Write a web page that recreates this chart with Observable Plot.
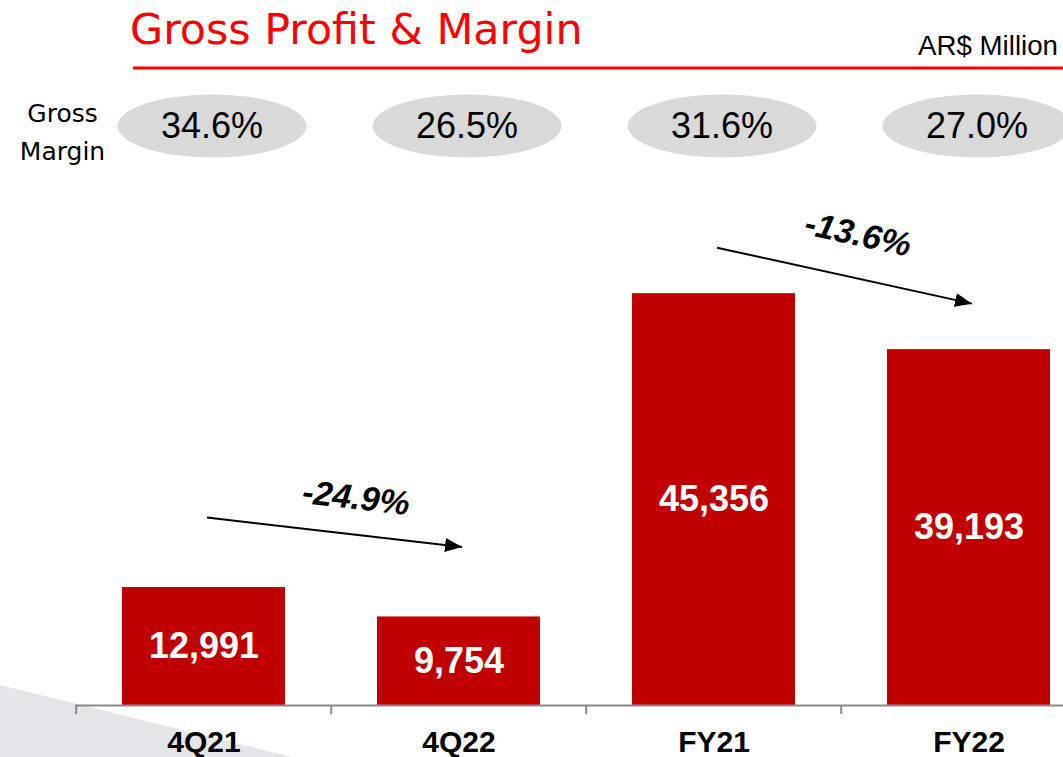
<!DOCTYPE html>
<html><head><meta charset="utf-8">
<script src="https://cdn.jsdelivr.net/npm/d3@7"></script>
<script src="https://cdn.jsdelivr.net/npm/@observablehq/plot@0.6"></script>
<style>
html,body{margin:0;padding:0;background:#fff;overflow:hidden;width:1063px;height:757px}
#page{position:relative;width:1063px;height:757px}
#wedge{position:absolute;left:0;top:0;width:1063px;height:757px;background:#e4e5e9;clip-path:polygon(0 685px,292px 757px,0 757px)}
#header,#chart{position:relative;display:block}
</style></head><body>
<div id="page"><div id="wedge"></div><svg id="header" width="1063" height="75"></svg><div id="chart"></div></div>
<script>
const categories = ["4Q21", "4Q22", "FY21", "FY22"];
const grossProfit = [12991, 9754, 45356, 39193];
const grossMargin = ["34.6%", "26.5%", "31.6%", "27.0%"];
const changeFrom = ["4Q21", "FY21"];
const changeTo = ["4Q22", "FY22"];
const changeLabels = ["-24.9%", "-13.6%"];
const titleText = "Gross Profit & Margin";
const unitText = "AR$ Million";
const marginLabel = "Gross\nMargin";

// header
const hdr = d3.select("#header");
hdr.append("text").attr("x", 130).attr("y", 44).attr("fill", "#ff0000")
  .style("font-family", "'DejaVu Sans', sans-serif").style("font-size", "42.8px").text(titleText);
hdr.append("text").attr("x", 1058).attr("y", 55).attr("text-anchor", "end").attr("fill", "#000")
  .style("font-family", "'Liberation Sans', Arial, sans-serif").style("font-size", "27.7px").text(unitText);
hdr.append("line").attr("x1", 133).attr("x2", 1063).attr("y1", 68).attr("y2", 68)
  .attr("stroke", "#ff0000").attr("stroke-width", 3);

// chart
const W = 1063, H = 682, mTop = 176, mBottom = 52;
const xRange = [75, 1097];
const step = (xRange[1] - xRange[0]) / categories.length;
const yMax = 50000;
const k = (H - mTop - mBottom) / yMax;
const valueOf = new Map(categories.map((c, i) => [c, grossProfit[i]]));
const rows = categories.map((c, i) => ({cat: c, value: grossProfit[i], margin: grossMargin[i]}));
const changes = changeLabels.map((l, i) => ({from: changeFrom[i], to: changeTo[i], label: l}));

const ellipse = {
  draw(ctx, size) {
    const ry = Math.sqrt(size / Math.PI), rx = ry * 3.0, q = 0.5523;
    ctx.moveTo(rx, 0);
    ctx.bezierCurveTo(rx, q * ry, q * rx, ry, 0, ry);
    ctx.bezierCurveTo(-q * rx, ry, -rx, q * ry, -rx, 0);
    ctx.bezierCurveTo(-rx, -q * ry, -q * rx, -ry, 0, -ry);
    ctx.bezierCurveTo(q * rx, -ry, rx, -q * ry, rx, 0);
    ctx.closePath();
  }
};

const arrowLift = [70, 46];
const labelOffset = [[152, -104], [144, -87]];
const changeMarks = changes.flatMap((c, i) => {
  const angle = Math.atan(((valueOf.get(c.from) - valueOf.get(c.to)) * k) / step) * 180 / Math.PI;
  return [
    Plot.link([c], {x1: "from", x2: "to", y1: d => valueOf.get(d.from), y2: d => valueOf.get(d.to),
      dx: 3, dy: -arrowLift[i], stroke: "#000", strokeWidth: 2}),
    Plot.text([c], {x: "from", y: d => (valueOf.get(d.from) + valueOf.get(d.to)) / 2, text: "label",
      dx: labelOffset[i][0], dy: labelOffset[i][1], rotate: angle,
      fontSize: 34, fontWeight: "bold", fontStyle: "italic", fill: "#000"})
  ];
});

const chart = Plot.plot({
  width: W, height: H,
  marginTop: mTop, marginBottom: mBottom, marginLeft: 75, marginRight: 0,
  style: {background: "transparent", fontFamily: "'Liberation Sans', Arial, sans-serif", overflow: "hidden"},
  x: {domain: categories, range: xRange, paddingInner: 0.36, paddingOuter: 0.18, axis: null},
  y: {domain: [0, yMax], axis: null},
  marks: [
    Plot.barY(rows, {x: "cat", y: "value", fill: "#c00000"}),
    Plot.ruleY([0], {stroke: "#898989", strokeWidth: 2}),
    Plot.ruleX(categories, {x: d => d, y1: 0, y2: 0, dx: -step / 2, insetTop: 0, insetBottom: -9,
      stroke: "#898989", strokeWidth: 2}),
    Plot.text(categories, {x: d => d, frameAnchor: "bottom", lineAnchor: "bottom", dy: 46,
      fontSize: 30, fontWeight: "bold", fill: "#000"}),
    Plot.text(rows, {x: "cat", y: d => d.value / 2, text: d => d3.format(",")(d.value),
      fill: "#fff", fontSize: 36, fontWeight: "bold"}),
    Plot.dot(rows, {x: "cat", frameAnchor: "top", dx: 8, dy: -125.5, r: 31.5, symbol: ellipse,
      fill: "#d9d9d9", stroke: "none"}),
    Plot.text(rows, {x: "cat", text: "margin", frameAnchor: "top", lineAnchor: "middle", dx: 8, dy: -125.5,
      fontSize: 36, fill: "#000"}),
    Plot.text([marginLabel], {frameAnchor: "top-left", lineAnchor: "top", dx: -13, dy: -156, textAnchor: "middle",
      lineHeight: 1.5, fontSize: 25, fontFamily: "'DejaVu Sans', sans-serif", fill: "#000"}),
    ...changeMarks
  ]
});
document.getElementById("chart").appendChild(chart);

// filled arrowheads on the change arrows
const svg = d3.select(chart);
const defs = svg.append("defs");
defs.append("marker").attr("id", "headFill").attr("viewBox", "-17 -7 17 14")
  .attr("markerUnits", "userSpaceOnUse").attr("markerWidth", 17).attr("markerHeight", 14)
  .attr("refX", 0).attr("refY", 0).attr("orient", "auto")
  .append("path").attr("d", "M-17,-7L0,0L-17,7Z").attr("fill", "#000");
svg.selectAll("g[aria-label='link'] path").attr("marker-end", "url(#headFill)");
</script>
</body></html>
